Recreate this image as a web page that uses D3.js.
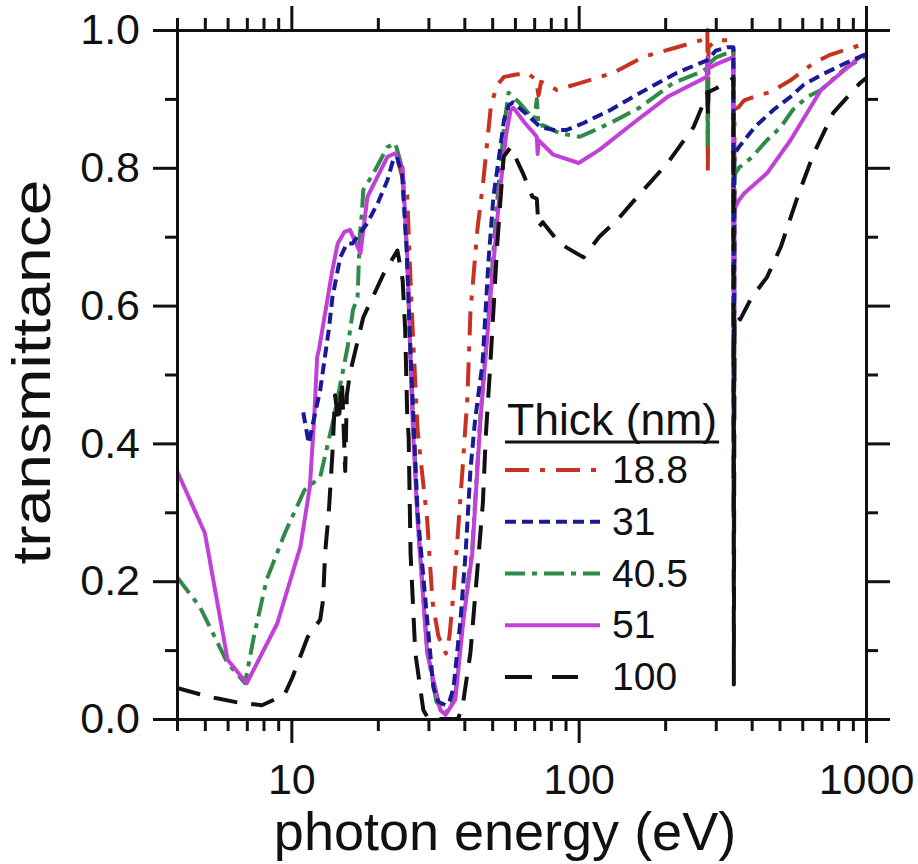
<!DOCTYPE html>
<html lang="en">
<head>
<meta charset="utf-8">
<title>Transmittance vs photon energy</title>
<script src="https://cdn.jsdelivr.net/npm/d3@7/dist/d3.min.js"></script>
<style>
  body { margin: 0; background: #fff; }
  svg text { font-family: "Liberation Sans", Arial, sans-serif; fill: #111; }
  .axis path, .axis line { stroke: #111; stroke-width: 3; }
</style>
</head>
<body>
<script>

// transmittance curves, [photon energy (eV), transmittance], one per film thickness
var s188 = [[23.5,0.81],[25.3,0.76],[26.2,0.60],[27.5,0.42],[28.3,0.37],[29.7,0.289],[31,0.17],[32.5,0.12],
  [34.5,0.095],[35.5,0.12],[36.4,0.168],[37.9,0.264],[39.4,0.361],[41,0.467],[42,0.59],[44.4,0.71],[46.6,0.782],
  [48,0.836],[49.5,0.89],[52,0.92],[55,0.932],[60,0.935],[66,0.938],[70,0.93],[71.5,0.92],[72.5,0.905],[74,0.925],
  [84,0.913],[101,0.923],[132,0.938],[168,0.961],[220,0.975],[266,0.985],[279,0.99],[280.5,1.0],[281.5,0.79],
  [283,0.975],[300,0.985],[330,0.985],[345.5,0.98],[346.8,0.3],[348.5,0.885],[360,0.888],[377,0.898],[420,0.905],
  [466,0.91],[546,0.927],[658,0.952],[750,0.964],[953,0.978],[1000,0.983]];

var s31 = [[11.0,0.445],[11.5,0.40],[11.9,0.43],[12.6,0.477],[13.0,0.517],[13.5,0.565],[13.9,0.612],[14.8,0.67],
  [15.6,0.69],[16.3,0.69],[17.0,0.70],[18.4,0.72],[20,0.749],[21.6,0.782],[22.6,0.811],[23.3,0.816],[24.3,0.79],
  [25.2,0.68],[26,0.53],[27.5,0.30],[29.7,0.144],[31.2,0.046],[32.5,0.025],[34.4,0.02],[35.5,0.025],[36.7,0.046],
  [38.8,0.144],[40.4,0.24],[42,0.361],[43.6,0.434],[46.3,0.517],[48.5,0.662],[50.5,0.758],[53.4,0.83],[55,0.87],
  [57,0.89],[59,0.895],[65,0.88],[73.6,0.859],[81.6,0.855],[91,0.855],[104,0.865],[129,0.884],[164,0.909],
  [220,0.938],[280,0.956],[300,0.97],[330,0.975],[345.5,0.975],[346.8,0.3],[348.5,0.82],[361,0.83],[410,0.859],
  [476,0.884],[546,0.903],[605,0.92],[700,0.935],[850,0.952],[1000,0.965]];

var s405 = [[4,0.206],[4.8,0.163],[5.2,0.134],[6.0,0.081],[6.9,0.052],[7.4,0.119],[8.2,0.202],[9.5,0.27],
  [11.1,0.332],[12.6,0.351],[14,0.434],[15.7,0.54],[16.4,0.594],[17.0,0.612],[17.3,0.70],[17.6,0.734],[17.8,0.768],
  [19.3,0.792],[21.6,0.83],[23,0.836],[24.3,0.80],[25.3,0.67],[26,0.52],[27.5,0.29],[29.7,0.10],[32,0.025],
  [34.4,0.008],[36,0.02],[37.2,0.035],[39.7,0.15],[42.6,0.245],[45.5,0.44],[49.3,0.62],[52,0.75],[55,0.86],
  [57,0.909],[62,0.895],[70,0.87],[71.5,0.9],[72.5,0.86],[75,0.862],[86,0.85],[101,0.845],[129,0.865],[164,0.888],
  [213,0.923],[270,0.94],[280.5,0.945],[281.5,0.83],[283,0.95],[300,0.96],[345.5,0.97],[346.8,0.3],[348.5,0.79],
  [361,0.80],[400,0.815],[452,0.84],[505,0.859],[556,0.884],[625,0.903],[697,0.913],[850,0.945],[1000,0.962]];

var s51 = [[4,0.36],[5,0.27],[6,0.086],[7,0.052],[8.94,0.139],[10.75,0.25],[11.6,0.337],[12.0,0.434],[12.3,0.525],
  [12.5,0.538],[13.9,0.652],[14.5,0.69],[15.3,0.707],[16,0.71],[17.4,0.676],[18.4,0.758],[21.6,0.816],[23,0.821],
  [24.4,0.80],[25.4,0.662],[26,0.517],[26.5,0.42],[27.5,0.289],[29.7,0.096],[33,0.013],[34.4,0.006],[37.2,0.028],
  [39.7,0.144],[42.6,0.24],[45.5,0.434],[49.3,0.612],[53,0.76],[56,0.85],[58,0.884],[59.3,0.887],[65,0.865],
  [71.5,0.845],[72,0.82],[72.5,0.84],[81.6,0.819],[100,0.807],[118,0.826],[155,0.865],[204,0.903],[279,0.932],
  [281,0.96],[285,0.945],[300,0.95],[342,0.96],[345.5,0.96],[346.8,0.2],[348.5,0.74],[361,0.753],[377,0.763],
  [452,0.792],[546,0.84],[697,0.913],[953,0.961],[1000,0.965]];

var s100 = [[4,0.045],[4.8,0.036],[5.5,0.03],[6.5,0.024],[7.9,0.02],[9.46,0.035],[10.1,0.061],[11.4,0.119],
  [12.6,0.144],[12.9,0.173],[13.1,0.24],[13.5,0.30],[13.9,0.386],[14.2,0.47],[14.6,0.43],[15.0,0.49],[15.4,0.36],
  [15.6,0.47],[16,0.502],[17.8,0.583],[21,0.647],[23.4,0.68],[24.4,0.637],[24.9,0.565],[25.3,0.444],[25.6,0.41],
  [26,0.24],[27,0.096],[28.8,0.013],[30,0.0],[38,0.0],[39.4,0.017],[42,0.096],[44.4,0.216],[46.4,0.313],
  [47.5,0.41],[49.3,0.517],[52,0.685],[54.8,0.816],[58,0.83],[64,0.792],[69,0.758],[71.5,0.755],[72.5,0.714],
  [75,0.721],[86,0.69],[104,0.67],[118,0.70],[136,0.724],[164,0.763],[204,0.807],[251,0.859],[279,0.905],
  [280.5,0.91],[281.5,0.875],[283,0.91],[300,0.915],[345.5,0.93],[346.8,0.05],[348.5,0.59],[365,0.58],[400,0.612],
  [452,0.641],[505,0.685],[578,0.758],[658,0.821],[770,0.88],[953,0.923],[1000,0.93]];

var thickLabels = ["18.8", "31", "40.5", "51", "100"];
var seriesData = [s188, s31, s405, s51, s100];
var colors = ["#c83223", "#1a1a96", "#2f8a4a", "#c040d8", "#111111"];
var dashes = ["24,11,5,11", "11,6", "20,7,5,7", "none", "24,14"];

var xMajor = [10, 100, 1000];
var yMajor = [0, 0.2, 0.4, 0.6, 0.8, 1.0];
var yMinor = [0.1, 0.3, 0.5, 0.7, 0.9];

//Width and height
var w = 918;
var h = 864;
var plotL = 177, plotR = 866, plotT = 30, plotB = 719;

var x = d3.scaleLog().domain([4, 1000]).range([plotL, plotR]);
var y = d3.scaleLinear().domain([0, 1]).range([plotB, plotT]);

var xMinor = [];
[1, 10, 100].forEach(function(d) {
    for (var k = 2; k <= 9; k++) {
        var v = d * k;
        if (v >= 4 && v < 1000) xMinor.push(v);
    }
});

var svg = d3.select("body")
            .append("svg")
            .attr("width", w)
            .attr("height", h);

svg.append("clipPath").attr("id", "plotclip")
   .append("rect")
   .attr("x", plotL).attr("y", plotT - 2)
   .attr("width", plotR - plotL).attr("height", plotB - plotT + 2);

var line = d3.line()
             .x(function(d) { return x(d[0]); })
             .y(function(d) { return y(d[1]); });

// curves: red first, black on top
var drawOrder = [0, 2, 3, 1, 4];
svg.append("g").attr("clip-path", "url(#plotclip)")
   .selectAll("path")
   .data(drawOrder)
   .enter()
   .append("path")
   .attr("d", function(i) { return line(seriesData[i]); })
   .attr("fill", "none")
   .attr("stroke", function(i) { return colors[i]; })
   .attr("stroke-width", 4)
   .attr("stroke-linejoin", "round")
   .attr("stroke-dasharray", function(i) { return dashes[i]; });

// axes: major and minor ticks on all four sides, pointing outward
function axisPair(g, maker, scale, major, minor, fmt) {
    var maj = maker(scale).tickValues(major).tickSize(24).tickSizeOuter(0).tickFormat(fmt || "");
    g.append("g").attr("class", "axis").call(maj);
    var mn = maker(scale).tickValues(minor).tickSize(12).tickSizeOuter(0).tickFormat("");
    g.append("g").attr("class", "axis").call(mn);
}

var gBottom = svg.append("g").attr("transform", "translate(0," + plotB + ")");
axisPair(gBottom, function(s) { return d3.axisBottom(s).tickPadding(20); }, x, xMajor, xMinor, d3.format("d"));
var gTop = svg.append("g").attr("transform", "translate(0," + plotT + ")");
axisPair(gTop, d3.axisTop, x, xMajor, xMinor, null);
var gLeft = svg.append("g").attr("transform", "translate(" + plotL + ",0)");
axisPair(gLeft, function(s) { return d3.axisLeft(s).tickPadding(13); }, y, yMajor, yMinor, d3.format(".1f"));
var gRight = svg.append("g").attr("transform", "translate(" + plotR + ",0)");
axisPair(gRight, d3.axisRight, y, yMajor, yMinor, null);

svg.selectAll(".axis text")
   .attr("font-size", "43px")
   .attr("font-family", null)
   .attr("fill", "#111");

// axis titles
svg.append("text")
   .text("photon energy (eV)")
   .attr("x", 505)
   .attr("y", 850)
   .attr("text-anchor", "middle")
   .attr("font-size", "54px");

svg.append("text")
   .text("transmittance")
   .attr("transform", "translate(50,372) rotate(-90)")
   .attr("text-anchor", "middle")
   .attr("font-size", "54px")
   .attr("textLength", 385)
   .attr("lengthAdjust", "spacingAndGlyphs");

// legend
var legend = svg.append("g");
var title = legend.append("text")
   .text("Thick (nm)")
   .attr("x", 507)
   .attr("y", 435)
   .attr("font-size", "44.5px");
legend.append("line")
   .attr("x1", 505).attr("x2", 507 + title.node().getComputedTextLength() + 2)
   .attr("y1", 442).attr("y2", 442)
   .attr("stroke", "#111").attr("stroke-width", 3);

var rows = legend.selectAll("g.row")
   .data(thickLabels)
   .enter()
   .append("g")
   .attr("class", "row")
   .attr("transform", function(d, i) { return "translate(0," + (483 + i * 51.75) + ")"; });

rows.append("line")
   .attr("x1", 505)
   .attr("x2", function(d, i) { return i == 4 ? 578 : 600; })
   .attr("y1", -13).attr("y2", -13)
   .attr("stroke", function(d, i) { return colors[i]; })
   .attr("stroke-width", 4)
   .attr("stroke-dasharray", function(d, i) { return i == 4 ? "27,20" : dashes[i]; });

rows.append("text")
   .text(function(d) { return d; })
   .attr("x", 612)
   .attr("y", 0)
   .attr("font-size", "39px");

</script>
</body>
</html>
